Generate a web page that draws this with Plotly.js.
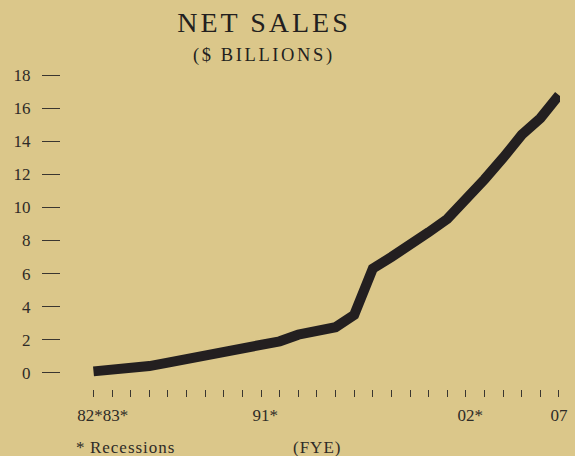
<!DOCTYPE html>
<html>
<head>
<meta charset="utf-8">
<script src="https://cdn.plot.ly/plotly-3.0.1.min.js"></script>
<style>
html,body{margin:0;padding:0;background:#dbc78a;}
#chart{width:575px;height:456px;}
</style>
</head>
<body>
<div id="chart"></div>
<script>
// ---- data ----
const years = [1982,1983,1984,1985,1986,1987,1988,1989,1990,1991,1992,1993,1994,
               1995,1996,1997,1998,1999,2000,2001,2002,2003,2004,2005,2006,2007];
const netSales = [0.08,0.17,0.25,0.40,0.61,0.85,1.09,1.31,1.45,1.71,1.90,2.30,2.52,
                  2.75,3.50,6.30,7.00,7.70,8.50,9.30,10.40,11.70,13.00,14.40,15.40,16.80];
// the two adjacent recession years 82 and 83 share one label centred between them
const xTickVals = [1982.5, 1991, 2002, 2007];
const xTickLabels = ['82*83*', '91*', '02*', '07'];
const yTickVals = [0,2,4,6,8,10,12,14,16,18];
const yTickLabels = ['0','2','4','6','8','10','12','14','16','18'];

const bg = '#dbc78a';
const ink = '#231f20';
const textCol = '#2e2b27';
const tickCol = '#3a3630';
const FONT = '"Liberation Serif", "DejaVu Serif", serif';
const ghost = s => '<span style="color:rgba(0,0,0,0)">' + s + '</span>';

// keep digits centred on the tick; the asterisk hangs to the right
const xTickText = xTickLabels.map((t, i) => {
  if (i > 0 && t.endsWith('*')) return ghost('*') + t;
  return t;
});

const trace = {
  x: years, y: netSales, type: 'scatter', mode: 'lines',
  line: {color: ink, width: 10, shape: 'linear'},
  hoverinfo: 'skip', showlegend: false
};

const layout = {
  width: 575, height: 456,
  paper_bgcolor: bg, plot_bgcolor: bg,
  margin: {l: 61, r: 15, t: 70, b: 67, pad: 0},
  font: {family: FONT, color: textCol, size: 17},
  title: {
    text: '<span style="letter-spacing:3px">NET SALES</span>',
    font: {family: FONT, size: 28, color: ink},
    xref: 'container', yref: 'container',
    x: 264/575, xanchor: 'center',
    y: 1 - 22/456, yanchor: 'middle'
  },
  xaxis: {
    range: [1980.255, 2007.054],
    showgrid: false, zeroline: false, showline: false,
    tickmode: 'array', tickvals: xTickVals, ticktext: xTickText,
    ticks: '', ticklabelstandoff: 14,
    tickangle: 0, tickfont: {family: FONT, size: 17, color: textCol},
    minor: {tickmode: 'array', tickvals: years, ticks: 'outside',
            ticklen: 7, tickwidth: 1, tickcolor: tickCol, showgrid: false},
    fixedrange: true
  },
  yaxis: {
    range: [-0.987, 18.32],
    showgrid: false, zeroline: false, showline: false,
    tickmode: 'array', tickvals: yTickVals, ticktext: yTickLabels,
    ticks: 'outside', ticklen: 18, tickwidth: 1, tickcolor: tickCol,
    ticklabelstandoff: 8,
    tickfont: {family: FONT, size: 17, color: textCol},
    fixedrange: true
  },
  annotations: [
    {text: '<span style="letter-spacing:2.6px">($ BILLIONS)</span>',
     xref: 'paper', yref: 'paper', x: (264-61)/499, y: (389-55.5)/319,
     xanchor: 'center', yanchor: 'middle', showarrow: false,
     font: {family: FONT, size: 18.5, color: ink}},
    {text: '<span style="letter-spacing:1px">*\u2009Recessions</span>',
     xref: 'paper', yref: 'paper', x: (74-61)/499, y: (389-447)/319,
     xanchor: 'left', yanchor: 'middle', showarrow: false,
     font: {family: FONT, size: 17, color: textCol}},
    {text: '<span style="letter-spacing:1px">(FYE)</span>',
     xref: 'paper', yref: 'paper', x: (317-61)/499, y: (389-447)/319,
     xanchor: 'center', yanchor: 'middle', showarrow: false,
     font: {family: FONT, size: 17, color: textCol}}
  ],
  hovermode: false
};

Plotly.newPlot('chart', [trace], layout, {displayModeBar: false, staticPlot: true});
</script>
</body>
</html>
